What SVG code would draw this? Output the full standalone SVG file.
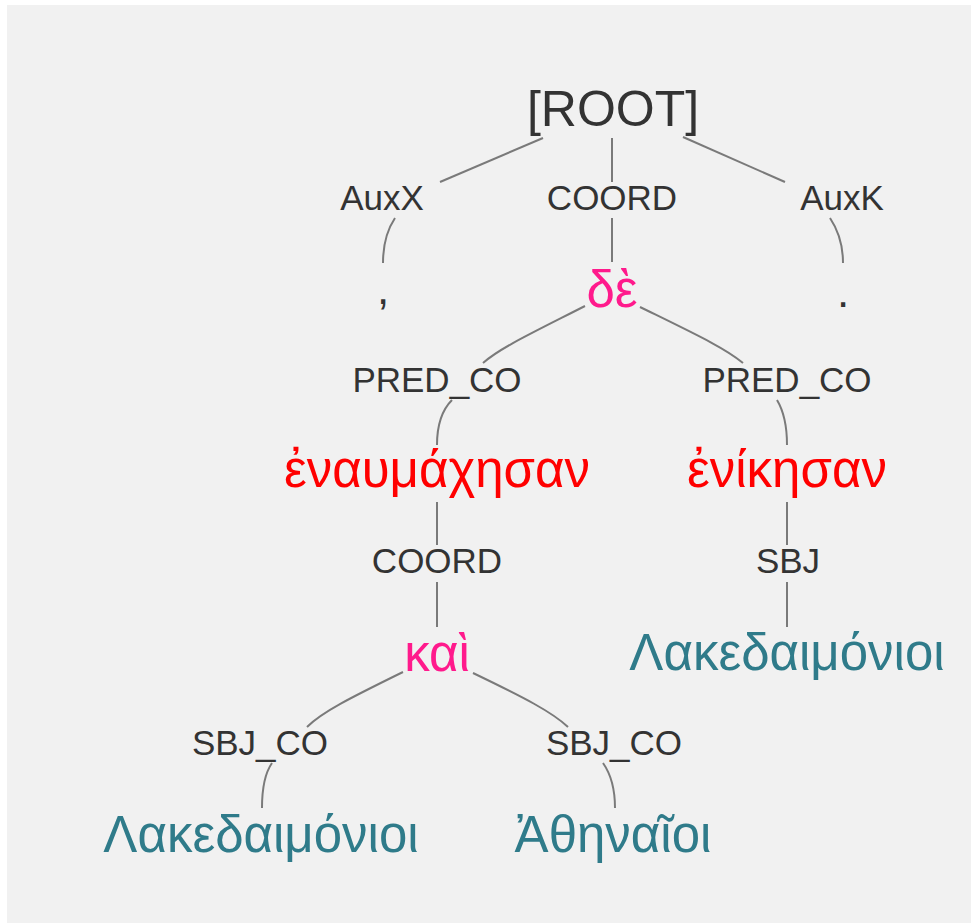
<svg xmlns="http://www.w3.org/2000/svg" width="971" height="923" viewBox="0 0 971 923">
<style>
  text { font-family: "Liberation Sans", Arial, "DejaVu Sans", sans-serif; text-anchor: middle; }
  .root { font-size: 50px; fill: #333333; }
  .lbl { font-size: 35px; fill: #333333; }
  .w { font-size: 51px; }
  .pink { fill: #ff1a8c; }
  .red { fill: #ff0000; }
  .teal { fill: #2f7b8a; }
  .punct { fill: #333333; font-size: 44px; }
  #connectors path { fill: none; stroke: #7a7a7a; stroke-width: 2; }
</style>
<rect x="0" y="0" width="971" height="923" fill="#ffffff"/>
<rect x="7" y="5" width="964" height="918" fill="#f1f1f1"/>
<g id="connectors">
  <path d="M543,138 L440,182"/>
  <path d="M395,218 C387,230 383,245 383,263"/>
  <path d="M612,138 L612,182"/>
  <path d="M612,218 L612,262"/>
  <path d="M683,137 L785,182"/>
  <path d="M830,218 C838,230 843,245 843,263"/>
  <path d="M585,306 C530,334 500,348 483,363"/>
  <path d="M452,400 C442,410 437,425 437,445"/>
  <path d="M640,307 C695,334 725,348 743,363"/>
  <path d="M777,400 C783,410 787,425 787,445"/>
  <path d="M437,502 L437,545"/>
  <path d="M437,582 L437,627"/>
  <path d="M787,502 L787,545"/>
  <path d="M787,582 L787,627"/>
  <path d="M403,672 C350,698 322,712 307,727"/>
  <path d="M272,763 C265,773 262,788 262,808"/>
  <path d="M473,673 C525,698 552,712 568,727"/>
  <path d="M603,763 C610,773 615,788 615,808"/>
</g>
<g id="node-root"><text class="root" x="613" y="126">[ROOT]</text></g>
<g id="label-auxx"><text class="lbl" x="382" y="210">AuxX</text></g>
<g id="label-coord1"><text class="lbl" x="612" y="210">COORD</text></g>
<g id="label-auxk"><text class="lbl" x="842" y="210">AuxK</text></g>
<g id="node-comma"><text class="w punct" x="383" y="304">,</text></g>
<g id="node-de"><text class="w pink" x="612" y="307">δὲ</text></g>
<g id="node-period"><text class="w punct" x="843" y="307">.</text></g>
<g id="label-predco1"><text class="lbl" x="437" y="392">PRED_CO</text></g>
<g id="label-predco2"><text class="lbl" x="787" y="392">PRED_CO</text></g>
<g id="node-enaumachesan"><text class="w red" x="437" y="487">ἐναυμάχησαν</text></g>
<g id="node-enikesan"><text class="w red" x="787" y="487">ἐνίκησαν</text></g>
<g id="label-coord2"><text class="lbl" x="437" y="573">COORD</text></g>
<g id="label-sbj"><text class="lbl" x="788" y="573">SBJ</text></g>
<g id="node-kai"><text class="w pink" x="437" y="671">καὶ</text></g>
<g id="node-lak2"><text class="w teal" x="787" y="670">Λακεδαιμόνιοι</text></g>
<g id="label-sbjco1"><text class="lbl" x="260" y="755">SBJ_CO</text></g>
<g id="label-sbjco2"><text class="lbl" x="614" y="755">SBJ_CO</text></g>
<g id="node-lak1"><text class="w teal" x="261" y="852">Λακεδαιμόνιοι</text></g>
<g id="node-athenaioi"><text class="w teal" x="613" y="852">Ἀθηναῖοι</text></g>
</svg>
